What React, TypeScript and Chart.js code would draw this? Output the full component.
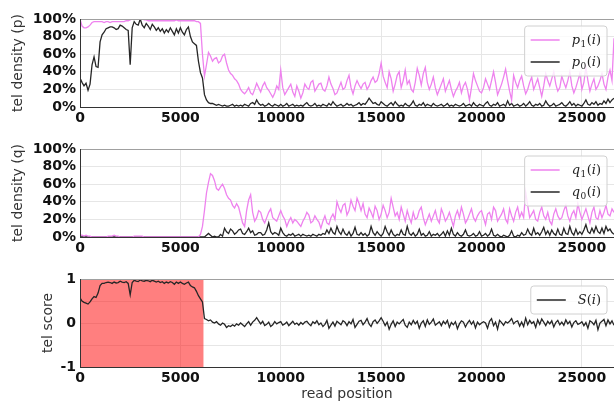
import React, { useEffect, useRef } from "react";
import { Chart, registerables } from "chart.js";

Chart.register(...registerables);

// ---- data ----
const STEP = 100; // read-position spacing of the samples (bp)
const X_MAX = 26600;
const X_TICKS = [0, 5000, 10000, 15000, 20000, 25000];
const PCT_TICKS = [0, 20, 40, 60, 80, 100];
const SCORE_TICKS = [-1, -0.5, 0, 0.5, 1];
const SCORE_LABELS = ["-1", "", "0", "", "1"];
const TEL_REGION = [0, 6150];

const P1 = [
  100, 92, 90, 90, 91, 93, 96, 97, 97, 97,
  97, 97, 96, 97, 97, 96, 97, 97, 97, 97,
  97, 97, 97, 98, 98, 99, 100, 100, 100, 100,
  100, 100, 99, 99, 98, 98, 98, 98, 98, 98,
  98, 98, 98, 98, 98, 98, 98, 98, 99, 98,
  98, 98, 98, 98, 98, 98, 98, 98, 97, 97,
  95, 60, 35, 48, 62, 58, 52, 55, 56, 50,
  52, 58, 60, 50, 42, 38, 36, 32, 30, 26,
  20, 17, 15, 18, 22, 16, 14, 20, 27, 22,
  17, 24, 28, 22, 19, 15, 11, 16, 24, 20,
  42, 22, 14, 18, 22, 26, 17, 12, 24, 18,
  10, 16, 26, 22, 20, 28, 30, 18, 22, 26,
  27, 20, 18, 24, 34, 26, 21, 14, 16, 22,
  28, 20, 22, 30, 36, 22, 15, 24, 30, 25,
  21, 26, 28, 20, 24, 30, 34, 28, 30, 38,
  50, 35, 28, 22, 40, 32, 18, 26, 36, 40,
  22, 30, 42, 26, 30, 20, 17, 28, 44, 36,
  25, 38, 45, 28, 20, 26, 34, 22, 14, 20,
  26, 32, 18, 24, 30, 20, 12, 18, 22, 28,
  16, 24, 28, 20, 8, 22, 38, 30, 24, 18,
  16, 22, 32, 26, 20, 30, 40, 28, 14, 20,
  26, 34, 43, 30, 18, 8, 36, 28, 22, 30,
  35, 24, 15, 20, 28, 34, 20, 26, 32, 22,
  12, 24, 38, 30, 24, 32, 40, 26, 18, 22,
  35, 28, 22, 30, 40, 24, 16, 22, 30, 38,
  20, 28, 45, 30, 18, 26, 32, 20, 24, 30,
  38, 26, 20, 34, 42, 30, 78,
];

const P0 = [
  33, 28, 24, 27, 19, 26, 48, 57, 46, 45,
  74, 82, 85, 89, 90, 91, 91, 90, 88, 89,
  93, 92, 90, 88, 87, 48, 90, 97, 94, 93,
  100, 93, 90, 95, 92, 88, 94, 91, 87, 90,
  86, 89, 84, 88, 85, 90, 86, 82, 89, 84,
  90, 85, 82, 88, 91, 80, 74, 72, 70, 52,
  39, 33, 14, 8, 5, 4, 4, 3, 2, 3,
  2, 1, 2, 1, 1, 2, 3, 1, 2, 1,
  2, 1, 3, 2, 1, 4, 5, 3, 8, 4,
  2, 3, 1, 2, 4, 2, 1, 3, 2, 1,
  3, 1, 2, 4, 1, 2, 3, 1, 2, 1,
  2, 1, 3, 5, 2, 1, 2, 4, 1, 2,
  1, 3, 2, 1, 4, 2, 6, 3, 1, 2,
  3, 1, 2, 4, 2, 3, 1, 2, 3, 5,
  2, 4, 3, 6, 10, 7, 4, 5, 3, 2,
  6, 4, 2, 1, 3, 5, 2, 6, 3, 1,
  2, 1, 4, 2, 1, 3, 7, 2, 1, 3,
  2, 5, 1, 3, 2, 1, 4, 2, 1, 2,
  3, 1, 2, 4, 1, 2, 1, 3, 2, 1,
  2, 4, 1, 2, 3, 1, 5, 2, 1, 3,
  2, 1, 4, 6, 2, 1, 3, 2, 5, 1,
  2, 3, 1, 7, 2, 4, 1, 2, 3, 1,
  2, 4, 1, 3, 6, 2, 1, 3, 2, 4,
  1, 2, 7, 3, 1, 2, 4, 1, 2, 3,
  5, 2, 1, 3, 6, 2, 4, 1, 3, 2,
  1, 4, 8, 3, 2, 5, 3, 6, 2, 4,
  3, 7, 4, 9, 5, 8, 10,
];

const Q1 = [
  2, 2, 1, 2, 1, 1, 0, 0, 0, 0,
  0, 0, 0, 0, 1, 1, 1, 2, 1, 1,
  0, 0, 0, 0, 0, 0, 0, 1, 1, 1,
  1, 1, 0, 0, 0, 0, 0, 0, 0, 0,
  0, 0, 0, 0, 0, 0, 0, 0, 0, 0,
  0, 0, 0, 0, 0, 0, 0, 0, 0, 0,
  3, 12, 30, 50, 62, 72, 70, 64, 55, 53,
  57, 60, 55, 48, 44, 42, 36, 33, 38, 34,
  25, 16, 12, 30, 42, 48, 28, 18, 22, 30,
  28, 20, 16, 22, 28, 32, 22, 20, 18, 24,
  30, 24, 20, 12, 18, 22, 16, 20, 18, 15,
  12, 18, 22, 28, 25, 16, 18, 24, 20, 17,
  10, 18, 24, 16, 14, 22, 26, 20, 40, 33,
  28, 36, 38, 25, 30, 42, 35, 30, 44, 38,
  30, 38, 26, 22, 33, 28, 22, 35, 30, 20,
  26, 36, 30, 22, 28, 44, 34, 24, 28, 20,
  34, 26, 18, 30, 22, 16, 28, 20, 22, 30,
  34, 22, 14, 20, 26, 18, 24, 30, 20, 16,
  32, 26, 18, 22, 28, 20, 12, 24, 30, 22,
  34, 26, 16, 20, 26, 32, 22, 18, 24, 28,
  30, 22, 14, 26, 28, 20, 34, 30, 18, 22,
  26, 32, 20, 16, 32, 24, 18, 28, 34, 22,
  28, 22, 51, 36, 22, 26, 30, 20, 18, 28,
  34, 24, 20, 28, 18, 14, 26, 32, 24, 20,
  22, 30, 36, 24, 18, 26, 30, 22, 38, 28,
  20, 26, 32, 24, 16, 28, 34, 22, 20, 30,
  22, 28, 36, 26, 24, 32, 28,
];

const Q0 = [
  0, 0, 0, 0, 0, 0, 0, 0, 0, 0,
  0, 0, 0, 0, 0, 0, 0, 0, 0, 0,
  0, 0, 0, 0, 0, 0, 0, 0, 0, 0,
  0, 0, 0, 0, 0, 0, 0, 0, 0, 0,
  0, 0, 0, 0, 0, 0, 0, 0, 0, 0,
  0, 0, 0, 0, 0, 0, 0, 0, 0, 0,
  0, 0, 0, 2, 4, 2, 0, 1, 0, 0,
  3, 1, 10, 6, 4, 9, 7, 3, 5, 8,
  9, 4, 3, 6, 10, 5, 7, 2, 3, 5,
  5, 2, 3, 8, 16, 6, 3, 5, 4, 2,
  10, 5, 2, 1, 3, 2, 4, 1, 2, 3,
  1, 3, 2, 1, 2, 1, 3, 2, 1, 3,
  2, 4, 3, 8, 4, 10, 5, 3, 12, 6,
  3, 9, 4, 2, 6, 1, 4, 11, 3, 2,
  5, 2, 4, 1, 3, 12, 5, 2, 6, 3,
  1, 4, 12, 6, 2, 8, 3, 1, 3, 2,
  8, 3, 2, 12, 4, 2, 5, 1, 3, 9,
  2, 4, 1, 2, 6, 1, 3, 2, 4, 1,
  3, 6, 1, 7, 2, 10, 3, 1, 5, 2,
  1, 3, 8, 2, 1, 2, 4, 1, 2, 6,
  1, 2, 4, 1, 3, 9, 2, 1, 3, 1,
  0, 2, 1, 0, 2, 7, 1, 0, 2, 1,
  5, 2, 3, 9, 4, 2, 10, 3, 5, 2,
  6, 11, 3, 7, 2, 8, 4, 2, 9, 3,
  2, 10, 4, 3, 12, 5, 2, 9, 3, 6,
  3, 8, 14, 6, 4, 10, 5, 12, 6, 4,
  10, 4, 12, 7, 9, 5, 3,
];

const S = [
  0.57, 0.5, 0.47, 0.45, 0.43, 0.48, 0.55, 0.6, 0.58, 0.68,
  0.85, 0.9, 0.9, 0.92, 0.93, 0.92, 0.9, 0.93, 0.91, 0.92,
  0.95, 0.93, 0.92, 0.94, 0.9, 0.64, 0.92, 0.97, 0.95, 0.94,
  0.98, 0.96, 0.95, 0.97, 0.96, 0.94, 0.97, 0.95, 0.93, 0.95,
  0.92, 0.94, 0.9, 0.93, 0.91, 0.94, 0.92, 0.88, 0.93, 0.9,
  0.93, 0.9, 0.88, 0.91, 0.93, 0.85, 0.82, 0.8, 0.72, 0.62,
  0.55, 0.48, 0.1, 0.08, 0.05, 0.07, 0.02, 0.0, 0.03, -0.02,
  -0.05, 0.0, -0.03, -0.1, -0.06, -0.08, -0.04, -0.07, -0.02, -0.05,
  0.0, -0.04, -0.08, -0.02, 0.03, -0.05, 0.02, 0.06, 0.12, 0.05,
  -0.02, 0.04, -0.06, -0.03, 0.02, -0.08, -0.04, 0.03, -0.02, 0.01,
  0.03, -0.05, -0.02, 0.02, -0.06, -0.01, 0.04, -0.03, 0.0, -0.05,
  0.01, -0.03, 0.02, 0.04, -0.02, -0.06, 0.03, -0.01, 0.05, -0.04,
  0.0, -0.08, -0.03, 0.06, -0.12, -0.05, 0.02, -0.07, 0.04, 0.0,
  -0.04, 0.05, 0.02, -0.06, 0.03, -0.02, 0.08, -0.1, -0.03, 0.04,
  0.06, -0.04, 0.02, 0.1, -0.02, -0.08, 0.03, 0.07, -0.01, 0.05,
  0.12, 0.04, -0.06, 0.02, -0.14, -0.03, 0.05, -0.08, 0.02, -0.02,
  0.03, 0.08, -0.05, -0.1, 0.02, -0.04, 0.06, -0.02, 0.04, -0.12,
  0.0, 0.05, -0.08, 0.07, -0.03, 0.02, 0.09, -0.05, -0.01, 0.03,
  -0.06, 0.04, -0.02, 0.06, -0.1, 0.01, -0.04, 0.03, -0.13, -0.02,
  0.05, 0.02, -0.09, 0.0, 0.06, -0.03, 0.04, -0.11, 0.02, -0.04,
  0.0, 0.03, 0.0, -0.12, 0.04, 0.1, -0.06, 0.02, -0.14, 0.06,
  0.01, -0.05, 0.03, 0.0, 0.04, 0.1, -0.02, 0.03, 0.05, -0.07,
  0.02, -0.08, 0.11, -0.04, 0.06, -0.01, 0.03, -0.1, 0.07, -0.03,
  0.09, 0.02, -0.06, 0.04, -0.02, 0.05, -0.09, 0.01, 0.06, -0.04,
  0.02, -0.05, 0.07, -0.02, 0.04, -0.09, 0.01, 0.05, -0.03, -0.01,
  0.03, -0.06, 0.01, -0.12, 0.05, 0.02, -0.04, 0.06, -0.15, 0.0,
  0.04, 0.08, -0.06, 0.07, -0.02, 0.05, -0.05,
];

// ---- styles ----
const VIOLET = "#ee82ee";
const DARK = "#262626";
const SANS = "'DejaVu Sans', sans-serif";
const SERIF = "'DejaVu Serif', serif";
const GRID = "#e6e6e6";

const toXY = (arr: number[]) => arr.map((v, i) => ({ x: i * STEP, y: v }));

type LegendEntry = { base: string; sub: string; color: string };

function makePlugins(legend: LegendEntry[], span: number[] | null) {
  const spanPlugin = {
    id: "telSpan",
    beforeDatasetsDraw(chart: any) {
      if (!span) return;
      const { ctx, chartArea } = chart;
      const xs = chart.scales.x;
      const x0 = xs.getPixelForValue(span[0]);
      const x1 = xs.getPixelForValue(span[1]);
      ctx.save();
      ctx.fillStyle = "rgba(255,0,0,0.5)";
      ctx.fillRect(x0, chartArea.top, x1 - x0, chartArea.bottom - chartArea.top);
      ctx.restore();
    },
  };

  const legendPlugin = {
    id: "mathLegend",
    afterDatasetsDraw(chart: any) {
      const { ctx, chartArea } = chart;
      const rowH = 22;
      const pad = 3;
      const right = chartArea.right - 7;
      const top = chartArea.top + 7;
      const h = pad * 2 + rowH * legend.length;
      const mainFont = `italic 13px ${SERIF}`;
      const upFont = `13px ${SERIF}`;
      const subFont = `9px ${SERIF}`;
      const measure = (e: LegendEntry) => {
        ctx.font = mainFont;
        let w = ctx.measureText(e.base).width;
        ctx.font = subFont;
        w += e.sub ? ctx.measureText(e.sub).width + 1 : 0;
        ctx.font = upFont;
        w += ctx.measureText("()").width;
        ctx.font = mainFont;
        w += ctx.measureText("i").width;
        return w;
      };
      ctx.save();
      const textW = Math.max(...legend.map(measure));
      const w = 6 + 29 + 12 + textW + 6;
      const left = right - w;
      ctx.beginPath();
      const r = 3;
      ctx.moveTo(left + r, top);
      ctx.lineTo(left + w - r, top);
      ctx.quadraticCurveTo(left + w, top, left + w, top + r);
      ctx.lineTo(left + w, top + h - r);
      ctx.quadraticCurveTo(left + w, top + h, left + w - r, top + h);
      ctx.lineTo(left + r, top + h);
      ctx.quadraticCurveTo(left, top + h, left, top + h - r);
      ctx.lineTo(left, top + r);
      ctx.quadraticCurveTo(left, top, left + r, top);
      ctx.closePath();
      ctx.fillStyle = "rgba(255,255,255,0.8)";
      ctx.fill();
      ctx.strokeStyle = "#d0d0d0";
      ctx.lineWidth = 1;
      ctx.stroke();
      legend.forEach((e, i) => {
        const cy = top + pad + rowH * i + rowH / 2;
        ctx.strokeStyle = e.color;
        ctx.lineWidth = 1.5;
        ctx.beginPath();
        ctx.moveTo(left + 6, cy);
        ctx.lineTo(left + 35, cy);
        ctx.stroke();
        let tx = left + 47;
        const by = cy + 4;
        ctx.fillStyle = "#222";
        ctx.textBaseline = "alphabetic";
        ctx.textAlign = "left";
        ctx.font = mainFont;
        ctx.fillText(e.base, tx, by);
        tx += ctx.measureText(e.base).width;
        if (e.sub) {
          ctx.font = subFont;
          ctx.fillText(e.sub, tx + 0.5, by + 3);
          tx += ctx.measureText(e.sub).width + 1;
        }
        ctx.font = upFont;
        ctx.fillText("(", tx, by);
        tx += ctx.measureText("(").width;
        ctx.font = mainFont;
        ctx.fillText("i", tx, by);
        tx += ctx.measureText("i").width;
        ctx.font = upFont;
        ctx.fillText(")", tx, by);
      });
      ctx.restore();
    },
  };

  const spinesPlugin = {
    id: "spines",
    afterDraw(chart: any) {
      const { ctx, chartArea } = chart;
      const { left, right, top, bottom } = chartArea;
      ctx.save();
      ctx.lineWidth = 1;
      ctx.strokeStyle = "#a0a0a0";
      ctx.beginPath();
      ctx.moveTo(left, Math.round(top) + 0.5);
      ctx.lineTo(right, Math.round(top) + 0.5);
      ctx.stroke();
      ctx.strokeStyle = "#333";
      ctx.beginPath();
      ctx.moveTo(Math.round(left) + 0.5, top);
      ctx.lineTo(Math.round(left) + 0.5, bottom);
      ctx.moveTo(left, Math.round(bottom) + 0.5);
      ctx.lineTo(right, Math.round(bottom) + 0.5);
      ctx.stroke();
      ctx.restore();
    },
  };

  return [spanPlugin, legendPlugin, spinesPlugin];
}

type PanelCfg = {
  datasets: { data: number[]; color: string }[];
  yMin: number;
  yMax: number;
  yTicks: number[];
  yFmt: (v: number) => string;
  yTitle: string;
  padLeft: number;
  yWidth: number;
  xHeight: number;
  xTitle?: string;
  legend: LegendEntry[];
  span: number[] | null;
};

function buildConfig(p: PanelCfg): any {
  return {
    type: "line",
    data: {
      datasets: p.datasets.map((d) => ({
        data: toXY(d.data),
        borderColor: d.color,
        borderWidth: 1.3,
        pointRadius: 0,
        tension: 0,
        fill: false,
      })),
    },
    options: {
      animation: false,
      responsive: false,
      devicePixelRatio: 1,
      events: [],
      layout: { padding: { left: p.padLeft, top: 19, right: 0, bottom: 0 } },
      plugins: { legend: { display: false }, tooltip: { enabled: false } },
      scales: {
        x: {
          type: "linear",
          min: 0,
          max: X_MAX,
          afterBuildTicks: (s: any) => {
            s.ticks = X_TICKS.map((v) => ({ value: v }));
          },
          afterFit: (s: any) => {
            s.height = p.xHeight;
          },
          ticks: {
            font: { family: SANS, size: 14, weight: "bold" },
            color: "#111",
            padding: 3,
            maxRotation: 0,
            autoSkip: false,
            callback: (v: number) => String(v),
          },
          grid: { color: GRID, drawTicks: false, lineWidth: 1 },
          border: { display: false },
          title: p.xTitle
            ? {
                display: true,
                text: p.xTitle,
                font: { family: SANS, size: 14 },
                color: "#333",
                padding: 0,
              }
            : { display: false },
        },
        y: {
          type: "linear",
          min: p.yMin,
          max: p.yMax,
          afterBuildTicks: (s: any) => {
            s.ticks = p.yTicks.map((v) => ({ value: v }));
          },
          afterFit: (s: any) => {
            s.width = p.yWidth;
          },
          ticks: {
            font: { family: SANS, size: 14, weight: "bold" },
            color: "#111",
            padding: 4,
            autoSkip: false,
            callback: (v: number) => p.yFmt(v),
          },
          grid: { color: GRID, drawTicks: false, lineWidth: 1 },
          border: { display: false },
          title: {
            display: true,
            text: p.yTitle,
            font: { family: SANS, size: 14 },
            color: "#333",
            padding: 0,
          },
        },
      },
    },
    plugins: makePlugins(p.legend, p.span),
  };
}

function Panel({ cfg, top, height }: { cfg: PanelCfg; top: number; height: number }) {
  const ref = useRef<HTMLCanvasElement | null>(null);
  useEffect(() => {
    if (!ref.current) return;
    const chart = new Chart(ref.current, buildConfig(cfg));
    return () => chart.destroy();
  }, [cfg]);
  return (
    <canvas
      ref={ref}
      width={614}
      height={height}
      style={{ position: "absolute", left: 0, top, width: 614, height }}
    />
  );
}

const pct = (v: number) => `${v}%`;
const scoreFmt = (v: number) => {
  const i = SCORE_TICKS.indexOf(v);
  return i >= 0 ? SCORE_LABELS[i] : "";
};

const PANEL_P: PanelCfg = {
  datasets: [
    { data: P1, color: VIOLET },
    { data: P0, color: DARK },
  ],
  yMin: 0,
  yMax: 100,
  yTicks: PCT_TICKS,
  yFmt: pct,
  yTitle: "tel density (p)",
  padLeft: 10,
  yWidth: 70,
  xHeight: 23,
  legend: [
    { base: "p", sub: "1", color: VIOLET },
    { base: "p", sub: "0", color: DARK },
  ],
  span: null,
};

const PANEL_Q: PanelCfg = {
  datasets: [
    { data: Q1, color: VIOLET },
    { data: Q0, color: DARK },
  ],
  yMin: 0,
  yMax: 100,
  yTicks: PCT_TICKS,
  yFmt: pct,
  yTitle: "tel density (q)",
  padLeft: 10,
  yWidth: 70,
  xHeight: 23,
  legend: [
    { base: "q", sub: "1", color: VIOLET },
    { base: "q", sub: "0", color: DARK },
  ],
  span: null,
};

const PANEL_S: PanelCfg = {
  datasets: [{ data: S, color: DARK }],
  yMin: -1,
  yMax: 1,
  yTicks: SCORE_TICKS,
  yFmt: scoreFmt,
  yTitle: "tel score",
  padLeft: 40,
  yWidth: 40,
  xHeight: 36,
  xTitle: "read position",
  legend: [{ base: "S", sub: "", color: DARK }],
  span: TEL_REGION,
};

export default function App() {
  return (
    <div
      style={{
        position: "fixed",
        left: 0,
        top: 0,
        width: 614,
        height: 403,
        background: "#fff",
        overflow: "hidden",
      }}
    >
      <Panel cfg={PANEL_P} top={0} height={130} />
      <Panel cfg={PANEL_Q} top={130} height={130} />
      <Panel cfg={PANEL_S} top={260} height={143} />
    </div>
  );
}
